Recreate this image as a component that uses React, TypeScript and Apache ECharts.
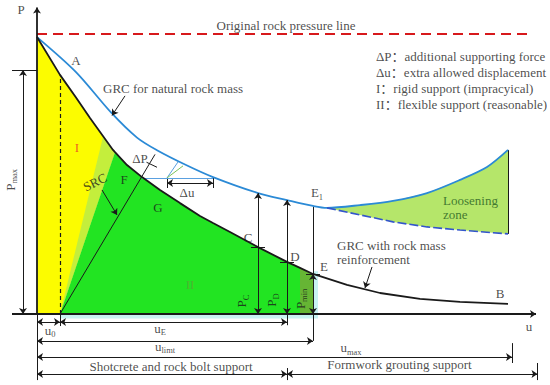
import React, { useEffect, useRef } from "react";
import * as echarts from "echarts";

const FONT = "'Liberation Serif', 'Times New Roman', 'Noto Sans CJK SC', serif";
const INK = "#1a1a1a";

// GRC for natural rock mass (u, P), including the loosening (rising) branch
const naturalU = [0, 7.8, 14.8, 20, 24, 29.6, 35.2, 44.2, 50, 55.2, 58, 64.6, 71.2, 78, 84.6, 90, 94.2];
const naturalP = [98.9, 86.4, 72, 63, 58.5, 53.4, 48.9, 43.2, 40.7, 38.6, 37.9, 38.9, 40.4, 43.2, 47.9, 52.5, 58.6];
// lower (dashed) boundary of the loosening zone
const lowerU = [58, 64.6, 71.2, 78, 84.6, 94.2];
const lowerP = [37.9, 35.4, 32.9, 31.1, 30, 28.6];
// GRC with rock mass reinforcement
const reinfU = [0, 4.6, 7.8, 10.6, 15.2, 15.6, 18, 21, 24.6, 28.6, 32.6, 35.2, 38.6, 44.2, 50, 52.6, 55.2, 62, 68.6, 76.6, 84.6, 94.2];
const reinfP = [98.9, 85.4, 77.3, 70, 58.6, 57.8, 53.2, 48.9, 44.3, 39.6, 35, 32.5, 29.3, 23.9, 18.6, 16.45, 14.3, 10.4, 7.5, 5.4, 4.3, 3.6];

// key values
const pOrig = 100;
const pMax = 87.1;
const u0 = 4.6;
const uC = 44.2, pC = 23.9, pCtop = 43.2;
const uD = 50, pD = 18.6, pDtop = 40.7;
const uE = 55.2, pE = 14.3, pEtop = 38.6;
const uMax = 95;
const uEnd = 100.1;
const uGreenTop = 15.6;
const uF = 21;

const zip = (a: number[], b: number[]) => a.map((v, i) => [v, b[i]]);
const natural = zip(naturalU, naturalP);
const lower = zip(lowerU, lowerP);
const reinf = zip(reinfU, reinfP);
const slice = (pts: number[][], a: number, b: number) => pts.filter((p) => p[0] >= a && p[0] <= b);

function polygon(points: number[][], fill: string, z = 1) {
  return {
    type: "custom",
    coordinateSystem: "cartesian2d",
    silent: true,
    z,
    data: [points[0]],
    renderItem: (_p: any, api: any) => ({
      type: "polygon",
      shape: { points: points.map((pt) => api.coord(pt)) },
      style: { fill },
    }),
  };
}

function segs(list: number[][][], symbol: string[], color = INK, width = 1, z = 4, type: any = "solid") {
  return {
    type: "lines",
    coordinateSystem: "cartesian2d",
    silent: true,
    z,
    symbol,
    symbolSize: 6,
    lineStyle: { color, width, opacity: 1, type, curveness: 0 },
    data: list.map((c) => ({ coords: c })),
  };
}

const rich = {
  m: { fontFamily: FONT, fontSize: 13, color: INK, verticalAlign: "bottom", padding: [0, 0, 2, 0] },
  s: { fontFamily: FONT, fontSize: 8.5, color: INK, verticalAlign: "bottom" },
};

function lab(t: string, u: number, p: number, extra: any = {}) {
  return {
    value: [u, p],
    label: {
      show: true,
      formatter: t,
      position: extra.left ? "right" : "inside",
      distance: 0,
      rotate: extra.rot || 0,
      color: extra.color || INK,
      fontSize: extra.size || 13,
      fontFamily: FONT,
      rich,
    },
  };
}

const labels = [
  lab("Original rock pressure line", 49.8, 103.2),
  lab("P", -3.2, 108.6),
  lab("u", 98.4, -4.6),
  lab("A", 7.8, 90.5),
  lab("GRC for natural rock mass", 13.2, 80.4, { left: true }),
  lab("I", 8, 59.3, { color: "#e8382a" }),
  lab("SRC", 11.6, 47.1, { rot: 27 }),
  lab("F", 17.4, 47.9),
  lab("G", 24.2, 38.2),
  lab("II", 30.6, 10.4, { color: "#5aa832" }),
  lab("ΔP", 20.6, 55.7),
  lab("Δu", 30, 43.4),
  lab("C", 42.2, 27.5),
  lab("D", 51.6, 20.4),
  lab("E", 57.4, 16.8),
  lab("{m|E}{s|1}", 56, 43),
  lab("B", 92.6, 7.5),
  lab("GRC with rock mass", 60, 24.6, { left: true }),
  lab("reinforcement", 60, 19.6, { left: true }),
  lab("Loosening", 81.2, 40.7, { left: true, color: "#1f5c1f" }),
  lab("zone", 81.2, 35.4, { left: true, color: "#1f5c1f" }),
  lab("{m|P}{s|max}", -5.2, 47.9, { rot: 90 }),
  lab("{m|P}{s|C}", 41.1, 4.6, { rot: 90 }),
  lab("{m|P}{s|D}", 47.1, 5, { rot: 90 }),
  lab("{m|P}{s|min}", 52.8, 5.4, { rot: 90 }),
  lab("{m|u}{s|0}", 2.6, -6.1),
  lab("{m|u}{s|E}", 24.6, -5.4),
  lab("{m|u}{s|limt}", 25.6, -11.8),
  lab("{m|u}{s|max}", 62.8, -12.4),
  lab("Shotcrete and rock bolt support", 26.8, -18.9),
  lab("Formwork grouting support", 72.5, -18.2),
  lab("ΔP：additional supporting force", 67.8, 91.8, { left: true }),
  lab("Δu：extra allowed displacement", 67.8, 86.4, { left: true }),
  lab("I：rigid support (impracyical)", 67.8, 80.4, { left: true }),
  lab("II：flexible support (reasonable)", 67.8, 75, { left: true }),
];

export default function App() {
  const ref = useRef<HTMLDivElement>(null);
  useEffect(() => {
    document.body.style.margin = "0";
    const chart = echarts.init(ref.current!, undefined, { renderer: "svg" });

    const yellowPts = [[0, 0], ...slice(reinf, 0, uGreenTop), [u0, 0]];
    const greenPts = [[u0, 0], ...slice(reinf, uGreenTop, uE), [uE, 0]];
    const olivePts = [[52.6, 0], ...slice(reinf, 52.6, uE), [uE, 0]];
    const bandPts = [[u0, 0], [uGreenTop, 57.8], [13.2, 63.3]];
    const loosePts = [...slice(natural, 58, 100), ...[...lower].reverse()];

    const option: any = {
      animation: false,
      textStyle: { fontFamily: FONT },
      grid: { left: 2, right: 3, top: 6, bottom: 1 },
      xAxis: { type: "value", min: -7, max: 102, show: false },
      yAxis: { type: "value", min: -25, max: 110, show: false },
      series: [
        polygon([[u0, -1.6], [uE + 1, -1.6], [uE + 1, pE + 1], [uE, pE + 1], [uE, 0], [u0, 0]], "#c8f3f3", 1),
        polygon(yellowPts, "#fcfc00", 1),
        polygon(bandPts, "#c4ee3c", 2),
        polygon(greenPts, "#22e422", 2),
        polygon(olivePts, "#66b534", 2),
        polygon(loosePts, "#b5e66a", 1),
        {
          type: "line",
          data: natural,
          symbol: "none",
          smooth: 0.3,
          z: 5,
          lineStyle: { color: "#2b8ad6", width: 1.8 },
          silent: true,
        },
        {
          type: "line",
          data: lower,
          symbol: "none",
          z: 5,
          lineStyle: { color: "#3355cc", width: 1.6, type: [9, 3] },
          silent: true,
        },
        {
          type: "line",
          data: reinf,
          symbol: "none",
          z: 5,
          lineStyle: { color: INK, width: 1.8 },
          silent: true,
        },
        {
          type: "line",
          data: [[0, pOrig], [99, pOrig]],
          symbol: "none",
          z: 5,
          lineStyle: { color: "#d7191c", width: 2, type: [10, 6] },
          silent: true,
        },
        // dashed u0 line
        segs([[[u0, 0], [u0, 85.4]]], ["none", "none"], INK, 1.2, 4, [4, 3]),
        // plain segments
        segs(
          [
            [[-5, pMax], [0, pMax]],
            [[0, 0], [0, -23.6]],
            [[u0, 0], [u0, -4.3]],
            [[uD, 0], [uD, -4]],
            [[uC - 1.4, pC], [uC + 1.4, pC]],
            [[uD - 1.4, pD], [uD + 1.4, pD]],
            [[uE - 1.4, pE], [uE + 1.4, pE]],
            [[uE, pEtop], [uE, -9.6]],
            [[uMax, -10.4], [uMax, -17.5]],
            [[uD, -19.3], [uD, -23.6]],
            [[uEnd, -17.5], [uEnd, -23.6]],
            [[u0, 0], [23.6, 57]],
            [[94.2, 28.6], [94.2, 58.6]],
            [[26, 48.6], [26, 45]],
            [[35.2, 48.6], [35.2, 45]],
            [[21.9, 54.2], [24, 52.4]],
          ],
          ["none", "none"],
          INK,
          1,
          4
        ),
        segs(
          [
            [[uF, 48.6], [35.2, 48.6]],
            [[26, 48.6], [28.2, 54.3]],
          ],
          ["none", "none"],
          "#5aa0e0",
          1,
          4
        ),
        segs([[[26, 48.6], [29.2, 52.9]]], ["none", "none"], "#7cc35a", 1, 4),
        // double arrows
        segs(
          [
            [[-2.8, 0], [-2.8, pMax]],
            [[uC, pCtop], [uC, 0]],
            [[uD, pDtop], [uD, 0]],
            [[uE, pE], [uE, 0]],
            [[0, -2.9], [u0, -2.9]],
            [[u0, -2.9], [uD, -2.9]],
            [[0, -9.6], [uE, -9.6]],
            [[0, -15.4], [uMax, -15.4]],
            [[0, -21.4], [uD, -21.4]],
            [[uD, -21.4], [uEnd, -21.4]],
            [[26, 46.8], [35.2, 46.8]],
          ],
          ["arrow", "arrow"],
          INK,
          1,
          6
        ),
        // axes
        segs(
          [
            [[0, 0], [0, 109.5]],
            [[-5, 0], [99.8, 0]],
          ],
          ["none", "arrow"],
          INK,
          1.8,
          6
        ),
        // pointers
        segs(
          [
            [[17.6, 77.9], [15, 70.9]],
            [[13, 44.3], [16, 35.4]],
            [[67, 16.8], [65.6, 9.3]],
          ],
          ["none", "arrow"],
          INK,
          1,
          6
        ),
        {
          type: "scatter",
          symbolSize: 0,
          z: 10,
          silent: true,
          data: labels,
        },
      ],
    };
    chart.setOption(option);
    return () => chart.dispose();
  }, []);
  return <div ref={ref} style={{ width: 550, height: 385 }} />;
}
